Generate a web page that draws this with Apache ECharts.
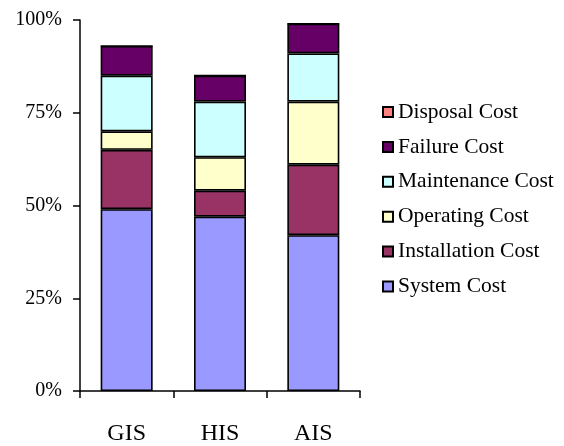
<!DOCTYPE html>
<html>
<head>
<meta charset="utf-8">
<script src="https://cdn.jsdelivr.net/npm/echarts@6/dist/echarts.min.js"></script>
<style>html,body{margin:0;padding:0;background:#fff}#c{width:564px;height:446px}</style>
</head>
<body>
<div id="c"></div>
<script>
const categories = ['GIS', 'HIS', 'AIS'];
const systemCost = [49, 47, 42];
const installationCost = [16, 7, 19];
const operatingCost = [5, 9, 17];
const maintenanceCost = [15, 15, 13];
const failureCost = [8, 7, 8];
const disposalCost = [0, 0, 0];
const yTicks = [0, 25, 50, 75, 100];

const seriesDefs = [
  ['System Cost', systemCost, '#9999FF'],
  ['Installation Cost', installationCost, '#993366'],
  ['Operating Cost', operatingCost, '#FFFFCC'],
  ['Maintenance Cost', maintenanceCost, '#CCFFFF'],
  ['Failure Cost', failureCost, '#660066'],
  ['Disposal Cost', disposalCost, '#FF8080']
];
const font = '"Liberation Serif", "Times New Roman", serif';
const chart = echarts.init(document.getElementById('c'), null, {renderer: 'canvas'});
chart.setOption({
  animation: false,
  grid: {left: 80, top: 20, width: 280, height: 372, containLabel: false},
  legend: {
    orient: 'vertical', left: 382, top: 101, itemGap: 12.9, padding: 0,
    itemWidth: 10, itemHeight: 10,
    data: seriesDefs.map(d => d[0]).reverse(),
    textStyle: {fontFamily: font, fontSize: 21.5, lineHeight: 21, color: '#000'},
    icon: 'rect'
  },
  xAxis: {
    type: 'category', data: categories,
    axisLine: {lineStyle: {color: '#000', width: 1.5}},
    axisTick: {show: true, length: 7, lineStyle: {color: '#000', width: 1.5}},
    axisLabel: {fontFamily: font, fontSize: 24, color: '#000', margin: 31}
  },
  yAxis: {
    type: 'value', min: 0, max: 100, interval: 25,
    axisLine: {show: true, lineStyle: {color: '#000', width: 1.5}},
    axisTick: {show: true, length: 7, lineStyle: {color: '#000', width: 1.5}},
    splitLine: {show: false},
    axisLabel: {fontFamily: font, fontSize: 20, color: '#000', margin: 18, formatter: v => yTicks.includes(v) ? v + '%' : ''}
  },
  series: seriesDefs.map(d => ({
    name: d[0], type: 'bar', stack: 'total', data: d[1], barWidth: 52,
    itemStyle: {color: d[2], borderColor: '#000', borderWidth: 1.6}
  }))
});
</script>
</body>
</html>
